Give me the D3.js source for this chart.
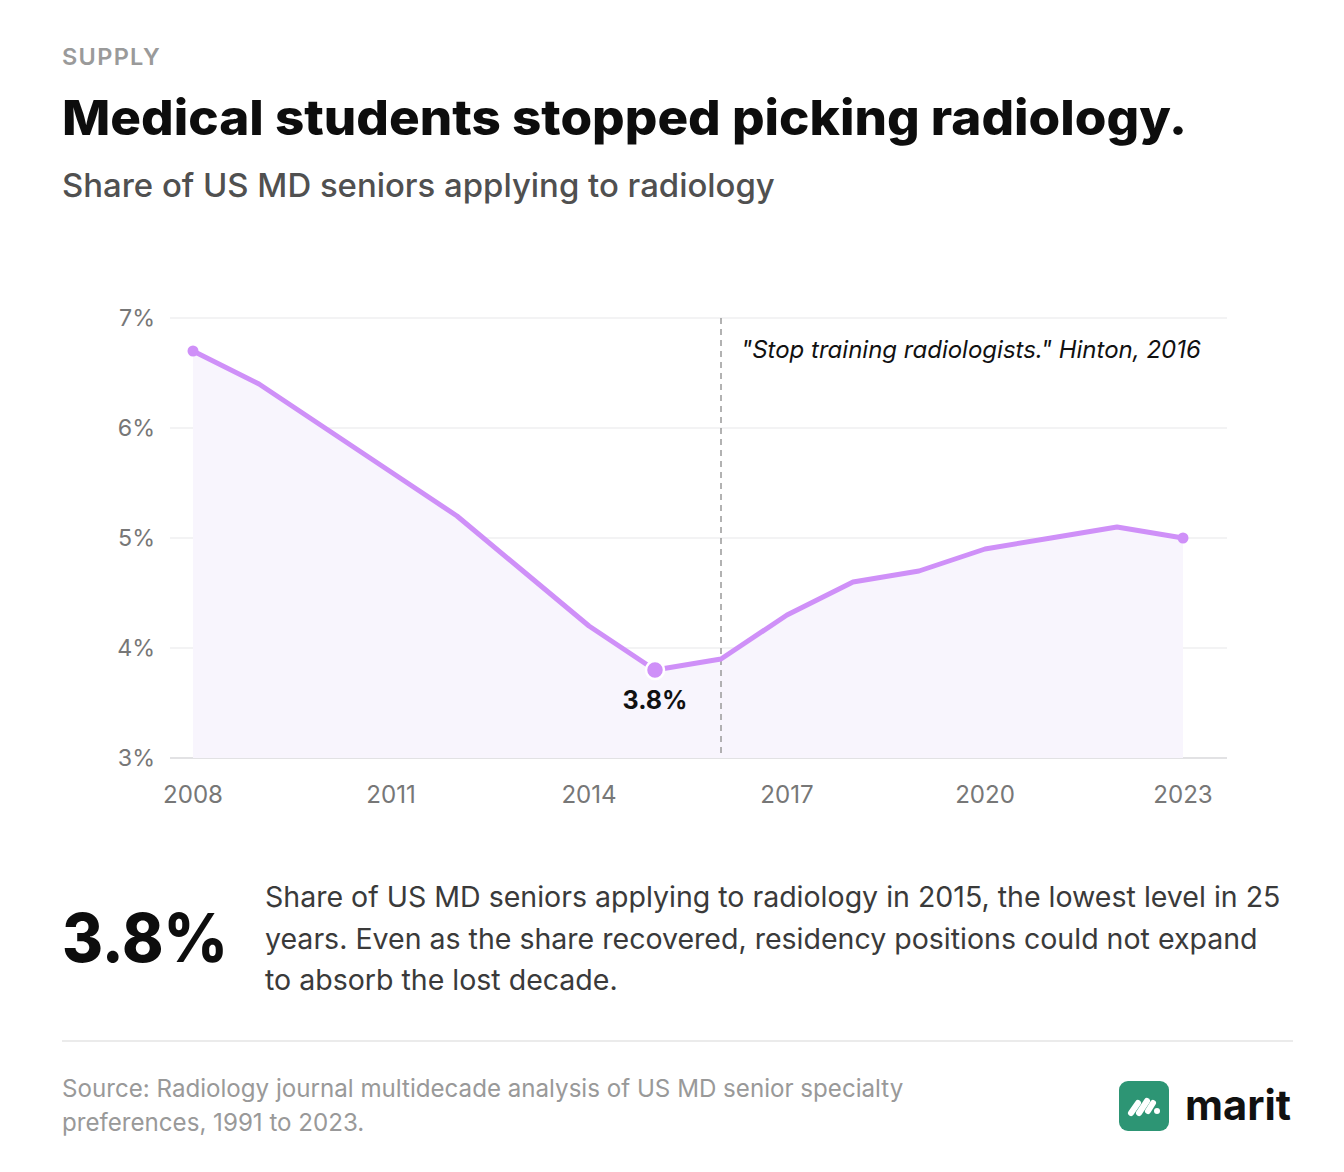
<!DOCTYPE html>
<html>
<head>
<meta charset="utf-8">
<script src="https://cdn.jsdelivr.net/npm/d3@7"></script>
<style>
  html, body { margin: 0; padding: 0; background: #fff; }
  svg { display: block; font-family: Inter, "Noto Sans", sans-serif; }
</style>
</head>
<body>
<svg id="chart" width="1344" height="1172"></svg>
<script>
const years = [2008, 2009, 2010, 2011, 2012, 2013, 2014, 2015, 2016, 2017, 2018, 2019, 2020, 2021, 2022, 2023];
const shares = [6.7, 6.4, 6.0, 5.6, 5.2, 4.7, 4.2, 3.8, 3.9, 4.3, 4.6, 4.7, 4.9, 5.0, 5.1, 5.0];
const yTicks = [3, 4, 5, 6, 7];
const xTicks = [2008, 2011, 2014, 2017, 2020, 2023];
const markerYear = 2016;
const lowYear = 2015;
const annotationText = "\"Stop training radiologists.\" Hinton, 2016";
const kicker = "SUPPLY";
const title = "Medical students stopped picking radiology.";
const subtitle = "Share of US MD seniors applying to radiology";
const bigStat = "3.8%";
const statLines = [
  "Share of US MD seniors applying to radiology in 2015, the lowest level in 25",
  "years. Even as the share recovered, residency positions could not expand",
  "to absorb the lost decade."
];
const sourceLines = [
  "Source: Radiology journal multidecade analysis of US MD senior specialty",
  "preferences, 1991 to 2023."
];

const data = years.map((y, i) => ({ year: y, value: shares[i] }));
const svg = d3.select("#chart");
const lineColor = "#CF90F8";

// scale font-size of a selection so that a reference element reaches the target width
function fitSize(sel, target, ref) {
  const node = (ref || sel).node();
  const w = node.getComputedTextLength();
  const fs = +d3.select(node).attr("font-size");
  sel.attr("font-size", fs * target / w);
}
function stretch(sel, target) {
  sel.attr("textLength", target).attr("lengthAdjust", "spacingAndGlyphs");
}

// Header
const kick = svg.append("text").attr("x", 62).attr("y", 65).text(kicker)
  .attr("font-size", 24).attr("font-weight", 600).attr("letter-spacing", 1.3).attr("fill", "#9a9a9a");
fitSize(kick, 99);
const tt = svg.append("text").attr("x", 62).attr("y", 135).text(title)
  .attr("font-size", 48.5).attr("font-weight", 800).attr("fill", "#0d0d0d");
stretch(tt, 1125);
const st = svg.append("text").attr("x", 62).attr("y", 197).text(subtitle)
  .attr("font-size", 33).attr("font-weight", 500).attr("fill", "#505050");
fitSize(st, 713);

// Scales
const x = d3.scaleLinear().domain([2008, 2023]).range([193, 1183]);
const y = d3.scaleLinear().domain([3, 7]).range([758, 318]);
const gridX0 = 170, gridX1 = 1227;

const g = svg.append("g");
g.selectAll("line.grid").data(yTicks).join("line")
  .attr("x1", gridX0).attr("x2", gridX1)
  .attr("y1", d => y(d)).attr("y2", d => y(d))
  .attr("stroke", d => d === 3 ? "#e2e2e4" : "#efeff1").attr("stroke-width", d => d === 3 ? 2 : 1.5);

// Y tick labels
const ylabs = g.selectAll("text.ylab").data(yTicks).join("text")
  .attr("x", 155).attr("y", d => y(d)).attr("dy", "0.36em")
  .attr("text-anchor", "end").attr("font-size", 24).attr("fill", "#777")
  .text(d => d + "%");
fitSize(ylabs, 36, ylabs.filter(d => d === 7));

// X tick labels
const xlabs = g.selectAll("text.xlab").data(xTicks).join("text")
  .attr("x", d => x(d)).attr("y", 803)
  .attr("text-anchor", "middle").attr("font-size", 25).attr("fill", "#777")
  .text(d => d);
fitSize(xlabs, 60, xlabs.filter(d => d === 2008));

// Area
const area = d3.area().x(d => x(d.year)).y0(y(3)).y1(d => y(d.value));
g.append("path").datum(data).attr("d", area).attr("fill", "#f8f5fd");

// Marker line
g.append("line").attr("x1", x(markerYear)).attr("x2", x(markerYear))
  .attr("y1", y(7)).attr("y2", y(3))
  .attr("stroke", "#999").attr("stroke-width", 1.5).attr("stroke-dasharray", "6,5");

const ann = g.append("text").attr("x", x(markerYear) + 20).attr("y", 358)
  .attr("font-size", 24).attr("font-style", "italic").attr("fill", "#111")
  .text(annotationText);
fitSize(ann, 460);

// Line
const line = d3.line().x(d => x(d.year)).y(d => y(d.value));
g.append("path").datum(data).attr("d", line)
  .attr("fill", "none").attr("stroke", lineColor).attr("stroke-width", 5)
  .attr("stroke-linejoin", "round").attr("stroke-linecap", "round");

// Endpoints
const ends = [data[0], data[data.length - 1]];
g.selectAll("circle.end").data(ends).join("circle")
  .attr("cx", d => x(d.year)).attr("cy", d => y(d.value)).attr("r", 5.5)
  .attr("fill", lineColor);

// Low point
const low = data.find(d => d.year === lowYear);
g.append("circle").attr("cx", x(low.year)).attr("cy", y(low.value)).attr("r", 9)
  .attr("fill", lineColor).attr("stroke", "#fff").attr("stroke-width", 2.5);
const lowLab = g.append("text").attr("x", x(low.year)).attr("y", y(low.value) + 39)
  .attr("text-anchor", "middle").attr("font-size", 25).attr("font-weight", 700).attr("fill", "#111")
  .text(low.value.toFixed(1) + "%");
fitSize(lowLab, 65);

// Big stat
const big = svg.append("text").attr("x", 62).attr("y", 962).text(bigStat)
  .attr("font-size", 67).attr("font-weight", 800).attr("fill", "#0d0d0d");
stretch(big, 166);

const para = svg.append("g").selectAll("text").data(statLines).join("text")
  .attr("x", 265).attr("y", (d, i) => 907 + i * 41.5)
  .attr("font-size", 28).attr("fill", "#3a3a3a")
  .text(d => d);
fitSize(para, 1016, para.filter((d, i) => i === 0));

// Separator
svg.append("line").attr("x1", 62).attr("x2", 1293).attr("y1", 1041).attr("y2", 1041)
  .attr("stroke", "#e4e4e4").attr("stroke-width", 1.5);

// Source
const src = svg.append("g").selectAll("text").data(sourceLines).join("text")
  .attr("x", 62).attr("y", (d, i) => 1097 + i * 34)
  .attr("font-size", 24).attr("fill", "#999")
  .text(d => d);
fitSize(src, 842, src.filter((d, i) => i === 0));

// Logo
const logo = svg.append("g").attr("transform", "translate(1119,1081)");
logo.append("rect").attr("width", 50).attr("height", 50).attr("rx", 9).attr("fill", "#2D9574");
const strokes = [
  [[12, 32], [19, 22]],
  [[20, 32], [28, 20]],
  [[29, 30], [34, 22]]
];
logo.selectAll("path").data(strokes).join("path")
  .attr("d", d => d3.line()(d))
  .attr("stroke", "#fff").attr("stroke-width", 6).attr("stroke-linecap", "round").attr("fill", "none");
logo.append("circle").attr("cx", 38).attr("cy", 30).attr("r", 3).attr("fill", "#fff");
const mk = svg.append("text").attr("x", 1185).attr("y", 1120).text("marit")
  .attr("font-size", 41).attr("font-weight", 700).attr("fill", "#111");
stretch(mk, 106);
</script>
</body>
</html>
